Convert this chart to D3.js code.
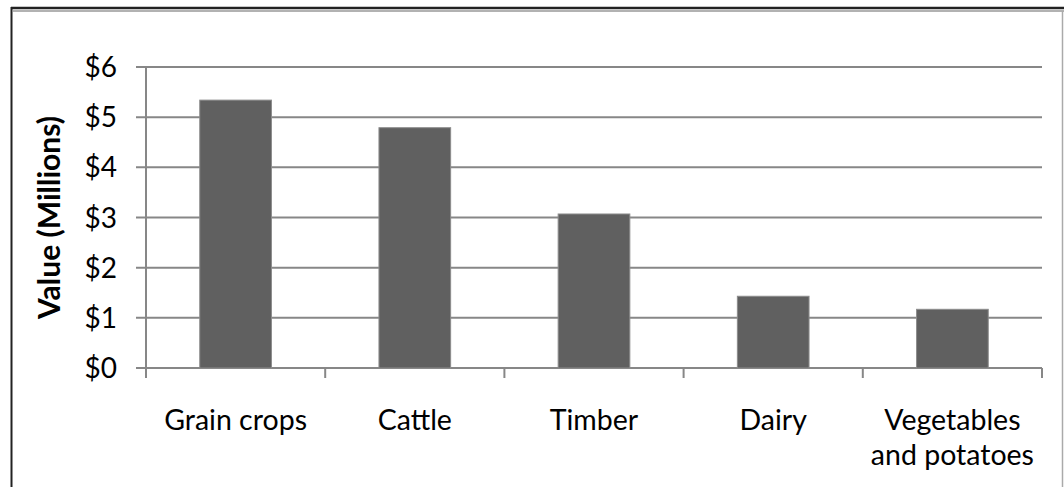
<!DOCTYPE html>
<html>
<head>
<meta charset="utf-8">
<script src="https://cdn.jsdelivr.net/npm/d3@7"></script>
<style>
  body { margin: 0; background: #fff; }
  svg { display: block; font-family: Lato, "Open Sans", sans-serif; }
</style>
</head>
<body>
<script>
// Chart size
const width = 1064;
const height = 487;
const margin = { top: 67, right: 22, bottom: 119, left: 146 };

// Data
const categories = ["Grain crops", "Cattle", "Timber", "Dairy", "Vegetables\nand potatoes"];
const values = [5.34, 4.79, 3.07, 1.43, 1.17];
const yTicks = [0, 1, 2, 3, 4, 5, 6];
const yTitle = "Value (Millions)";

const svg = d3.select("body")
  .append("svg")
  .attr("width", width)
  .attr("height", height);

// Frame around the chart
svg.append("line").attr("x1", 11).attr("x2", width).attr("y1", 8).attr("y2", 8)
  .attr("stroke", "#222").attr("stroke-width", 2.5);
svg.append("line").attr("x1", 13).attr("x2", width).attr("y1", 11).attr("y2", 11)
  .attr("stroke", "#999").attr("stroke-width", 1.5);
svg.append("line").attr("x1", 11.5).attr("x2", 11.5).attr("y1", 7).attr("y2", height)
  .attr("stroke", "#222").attr("stroke-width", 2);
svg.append("line").attr("x1", 1062.5).attr("x2", 1062.5).attr("y1", 11).attr("y2", height)
  .attr("stroke", "#aaa").attr("stroke-width", 1.5);

// Scales
const x = d3.scaleBand()
  .domain(categories)
  .range([margin.left, width - margin.right])
  .paddingInner(0.6)
  .paddingOuter(0.3);

const xOuter = d3.scaleBand()
  .domain(categories)
  .range([margin.left, width - margin.right]);

const y = d3.scaleLinear()
  .domain([0, 6])
  .range([height - margin.bottom, margin.top]);

// Gridlines
svg.append("g")
  .selectAll("line")
  .data(yTicks)
  .enter()
  .append("line")
  .attr("x1", margin.left - 10)
  .attr("x2", width - margin.right)
  .attr("y1", d => y(d))
  .attr("y2", d => y(d))
  .attr("stroke", "#878787")
  .attr("stroke-width", 2);

// Y axis line
svg.append("line")
  .attr("x1", margin.left).attr("x2", margin.left)
  .attr("y1", y(6)).attr("y2", y(0) + 10)
  .attr("stroke", "#878787").attr("stroke-width", 2);

// Bars
svg.append("g")
  .selectAll("rect")
  .data(values)
  .enter()
  .append("rect")
  .attr("x", (d, i) => x(categories[i]))
  .attr("y", d => y(d))
  .attr("width", x.bandwidth())
  .attr("height", d => y(0) - y(d))
  .attr("fill", "#606060")
  .attr("stroke", "#8c8c8c")
  .attr("stroke-width", 1);

// X axis ticks
const tickPositions = categories.map(c => xOuter(c)).concat([width - margin.right]);
svg.append("g")
  .selectAll("line")
  .data(tickPositions)
  .enter()
  .append("line")
  .attr("x1", d => d).attr("x2", d => d)
  .attr("y1", y(0)).attr("y2", y(0) + 10)
  .attr("stroke", "#878787").attr("stroke-width", 2);

// Y tick labels
svg.append("g")
  .attr("text-anchor", "end")
  .selectAll("text")
  .data(yTicks)
  .enter()
  .append("text")
  .attr("x", 117)
  .attr("y", d => y(d))
  .attr("dy", "0.36em")
  .attr("font-size", 28)
  .attr("fill", "#000")
  .text(d => "$" + d);

// X category labels
const xl = svg.append("g")
  .attr("text-anchor", "middle")
  .selectAll("text")
  .data(categories)
  .enter()
  .append("text")
  .attr("font-size", 28.5)
  .attr("fill", "#000")
  .attr("x", d => x(d) + x.bandwidth() / 2)
  .attr("y", 430);

xl.selectAll("tspan")
  .data(d => d.split("\n"))
  .enter()
  .append("tspan")
  .attr("x", function () { return d3.select(this.parentNode).attr("x"); })
  .attr("dy", (d, i) => i === 0 ? 0 : 35)
  .text(d => d);

// Y title
svg.append("text")
  .attr("transform", `translate(60, ${(y(0) + y(6)) / 2}) rotate(-90)`)
  .attr("text-anchor", "middle")
  .attr("font-size", 30)
  .attr("font-weight", "bold")
  .text(yTitle);
</script>
</body>
</html>
